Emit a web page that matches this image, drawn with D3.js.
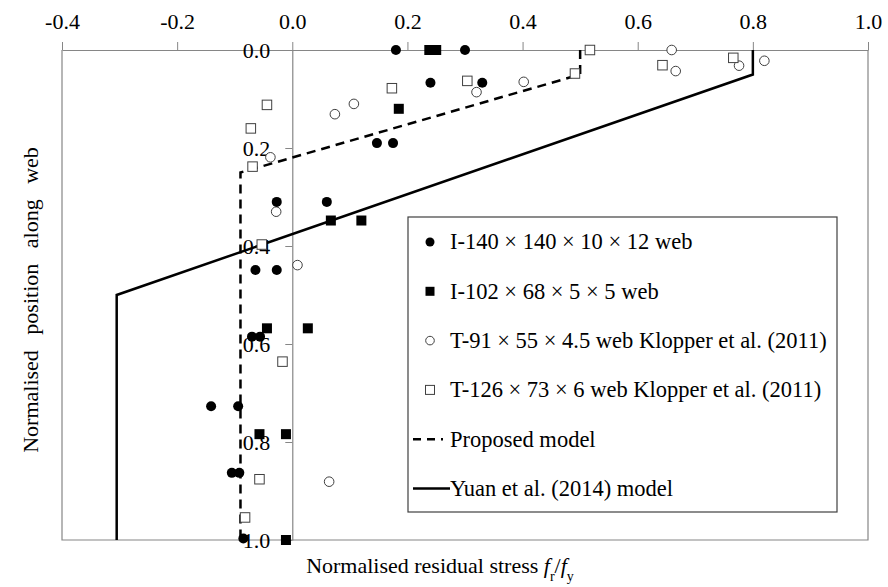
<!DOCTYPE html>
<meta charset="utf-8">
<script src="https://d3js.org/d3.v7.min.js"></script>
<style>
  body { margin: 0; background: #fff; }
  svg text { font-family: "Liberation Serif", "Times New Roman", serif; fill: #000; }
</style>
<div id="chart"></div>
<script>
// tick values for both axes
var xTicks = [-0.4, -0.2, 0.0, 0.2, 0.4, 0.6, 0.8, 1.0];
var yTicks = [0.0, 0.2, 0.4, 0.6, 0.8, 1.0];

// I-140 x 140 x 10 x 12 web (filled circles)
var i140X = [0.18, 0.30, 0.24, 0.33, 0.147, 0.175, -0.027, 0.06, -0.064, -0.027, -0.07, -0.056, -0.141, -0.094, -0.105, -0.092, -0.085];
var i140Y = [0.0, 0.0, 0.067, 0.067, 0.19, 0.19, 0.31, 0.31, 0.449, 0.449, 0.585, 0.585, 0.727, 0.727, 0.863, 0.863, 0.997];

// I-102 x 68 x 5 x 5 web (filled squares)
var i102X = [0.238, 0.25, 0.185, 0.067, 0.12, -0.044, 0.027, -0.057, -0.011, -0.011];
var i102Y = [0.0, 0.0, 0.12, 0.348, 0.348, 0.568, 0.568, 0.784, 0.784, 1.0];

// T-91 x 55 x 4.5 web, Klopper et al. (2011) (open circles)
var t91X = [0.659, 0.666, 0.776, 0.82, 0.402, 0.32, 0.107, 0.074, -0.038, -0.028, 0.009, 0.064];
var t91Y = [0.0, 0.043, 0.032, 0.022, 0.065, 0.086, 0.11, 0.131, 0.219, 0.33, 0.439, 0.881];

// T-126 x 73 x 6 web, Klopper et al. (2011) (open squares)
var t126X = [0.517, 0.491, 0.304, 0.643, 0.766, 0.173, -0.044, -0.072, -0.069, -0.053, -0.017, -0.057, -0.082];
var t126Y = [0.0, 0.048, 0.063, 0.031, 0.016, 0.078, 0.112, 0.16, 0.238, 0.397, 0.636, 0.876, 0.954];

// model lines
var proposedX = [0.5, 0.5, -0.09, -0.09];
var proposedY = [0.0, 0.05, 0.25, 1.0];
var yuanX = [0.8, 0.8, -0.305, -0.305];
var yuanY = [0.0, 0.05, 0.5, 1.0];

var legendLabels = [
  "I-140 \u00d7 140 \u00d7 10 \u00d7 12 web",
  "I-102 \u00d7 68 \u00d7 5 \u00d7 5 web",
  "T-91 \u00d7 55 \u00d7 4.5 web Klopper et al. (2011)",
  "T-126 \u00d7 73 \u00d7 6 web Klopper et al. (2011)",
  "Proposed model",
  "Yuan et al. (2014) model"
];

var serif = '"Liberation Serif", "Times New Roman", serif';

var W = 888, H = 587;
var margin = {top: 50, right: 20, bottom: 47, left: 62},
    width = 868 - margin.left,
    height = 540 - margin.top;

var svg = d3.select("#chart").append("svg")
    .attr("width", W)
    .attr("height", H);

var g = svg.append("g")
    .attr("transform", "translate(" + margin.left + "," + margin.top + ")");

var x = d3.scaleLinear().domain([-0.4, 1.0]).range([0, width]);
var y = d3.scaleLinear().domain([0, 1.0]).range([0, height]);

var grey = "#868686";

// plot frame (left, right, bottom)
g.append("path")
  .attr("d", "M0,0V" + height + "H" + width + "V0")
  .attr("fill", "none")
  .attr("stroke", grey)
  .attr("stroke-width", 1.2);

// top x axis
var xAxis = g.append("g")
  .call(d3.axisTop(x).tickValues(xTicks).tickSize(8).tickSizeOuter(0).tickPadding(13)
    .tickFormat(function(d) { return d3.format(".1f")(d).replace("\u2212", "-"); }));
xAxis.attr("font-family", serif).attr("font-size", 22);
xAxis.select(".domain").attr("stroke", grey).attr("stroke-width", 1.2);
xAxis.selectAll(".tick line").attr("stroke", grey);
xAxis.selectAll("text").attr("fill", "#000");

// y axis along x = 0
var yAxis = g.append("g")
  .attr("transform", "translate(" + x(0) + ",0)")
  .call(d3.axisLeft(y).tickValues(yTicks).tickSize(7).tickSizeOuter(0).tickPadding(15)
    .tickFormat(d3.format(".1f")));
yAxis.attr("font-family", serif).attr("font-size", 22);
yAxis.select(".domain").attr("stroke", grey).attr("stroke-width", 1.2);
yAxis.selectAll(".tick line").attr("stroke", grey);
yAxis.selectAll("text").attr("fill", "#000");

// model lines
var line = d3.line()
  .x(function(d) { return x(d[0]); })
  .y(function(d) { return y(d[1]); });

g.append("path")
  .datum(d3.zip(proposedX, proposedY))
  .attr("d", line)
  .attr("fill", "none")
  .attr("stroke", "#000")
  .attr("stroke-width", 2.5)
  .attr("stroke-dasharray", "9,6");

g.append("path")
  .datum(d3.zip(yuanX, yuanY))
  .attr("d", line)
  .attr("fill", "none")
  .attr("stroke", "#000")
  .attr("stroke-width", 2.5);

// markers
function circles(xs, ys, filled) {
  g.append("g").selectAll("circle")
    .data(d3.zip(xs, ys))
    .enter().append("circle")
      .attr("cx", function(d) { return x(d[0]); })
      .attr("cy", function(d) { return y(d[1]); })
      .attr("r", filled ? 5 : 4.8)
      .attr("fill", filled ? "#000" : "#fff")
      .attr("stroke", filled ? "#000" : "#404040")
      .attr("stroke-width", filled ? 0 : 1);
}
function squares(xs, ys, filled) {
  var s = filled ? 10 : 9.5;
  g.append("g").selectAll("rect")
    .data(d3.zip(xs, ys))
    .enter().append("rect")
      .attr("x", function(d) { return x(d[0]) - s / 2; })
      .attr("y", function(d) { return y(d[1]) - s / 2; })
      .attr("width", s)
      .attr("height", s)
      .attr("fill", filled ? "#000" : "#fff")
      .attr("stroke", filled ? "none" : "#404040")
      .attr("stroke-width", 1);
}
circles(t91X, t91Y, false);
squares(t126X, t126Y, false);
circles(i140X, i140Y, true);
squares(i102X, i102Y, true);

// legend
var lg = svg.append("g").attr("transform", "translate(408,217)");
lg.append("rect")
  .attr("width", 429).attr("height", 295)
  .attr("fill", "#fff").attr("stroke", "#404040").attr("stroke-width", 1.2);

var rows = lg.selectAll("g.row")
  .data(legendLabels)
  .enter().append("g")
    .attr("class", "row")
    .attr("transform", function(d, i) { return "translate(0," + (25 + i * 49.3) + ")"; });

rows.append("text")
  .attr("x", 42)
  .attr("dy", "0.33em")
  .style("font-size", "22.5px")
  .text(function(d) { return d; });

rows.each(function(d, i) {
  var r = d3.select(this);
  if (i === 0) r.append("circle").attr("cx", 22).attr("r", 4.5).attr("fill", "#000");
  if (i === 1) r.append("rect").attr("x", 17.5).attr("y", -4.5).attr("width", 9).attr("height", 9).attr("fill", "#000");
  if (i === 2) r.append("circle").attr("cx", 22).attr("r", 4.3).attr("fill", "#fff").attr("stroke", "#404040");
  if (i === 3) r.append("rect").attr("x", 17.5).attr("y", -4.5).attr("width", 9).attr("height", 9).attr("fill", "#fff").attr("stroke", "#404040");
  if (i === 4) r.append("line").attr("x1", 5).attr("x2", 35).attr("stroke", "#000").attr("stroke-width", 2.5).attr("stroke-dasharray", "8,6");
  if (i === 5) r.append("line").attr("x1", 5).attr("x2", 42).attr("stroke", "#000").attr("stroke-width", 2.5);
});

// axis titles
var xt = svg.append("text")
  .attr("x", 440)
  .attr("y", 573)
  .attr("text-anchor", "middle")
  .style("font-size", "22px");
xt.append("tspan").text("Normalised residual stress ");
xt.append("tspan").style("font-style", "italic").text("f");
xt.append("tspan").attr("baseline-shift", "sub").style("font-size", "14px").text("r");
xt.append("tspan").text("/");
xt.append("tspan").style("font-style", "italic").text("f");
xt.append("tspan").attr("baseline-shift", "sub").style("font-size", "14px").text("y");

svg.append("text")
  .attr("transform", "translate(30,300) rotate(-90)")
  .attr("text-anchor", "middle")
  .attr("dy", "0.35em")
  .style("font-size", "22px")
  .style("word-spacing", "10px")
  .text("Normalised position along web");
</script>
